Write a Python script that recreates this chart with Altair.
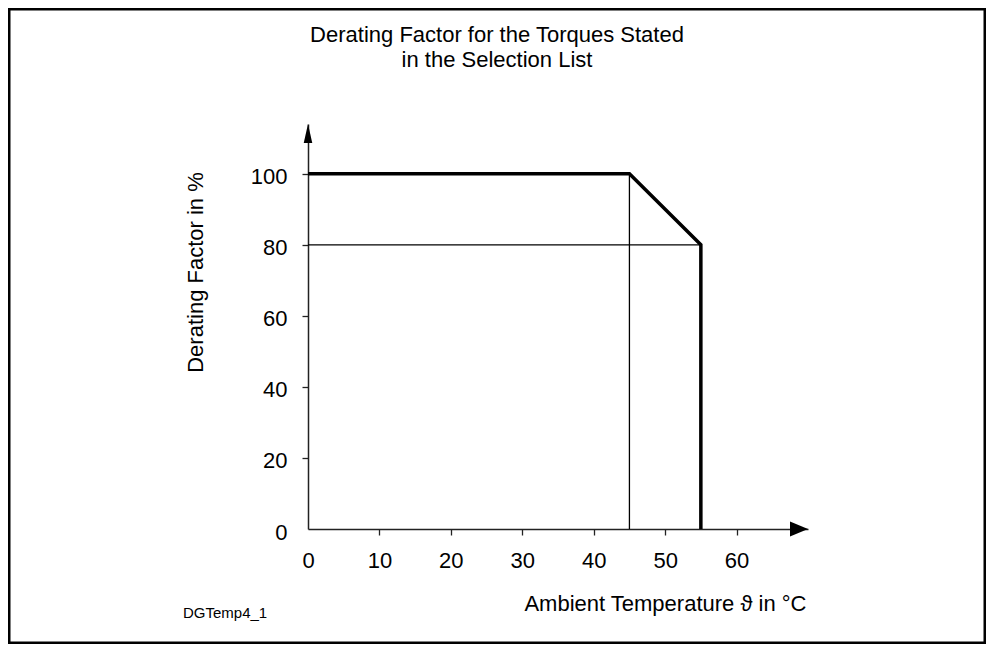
import altair as alt
import pandas as pd

# ---- data ----
curve_temp = [0, 45, 55, 55]
curve_factor = [100, 100, 80, 0]
curve_step = [0, 1, 2, 3]

guide_v_temp = [45]
guide_v_from = [0]
guide_v_to = [100]

guide_h_factor = [80]
guide_h_from = [0]
guide_h_to = [55]

x_ticks = [0, 10, 20, 30, 40, 50, 60]
y_ticks = [0, 20, 40, 60, 80, 100]
x_axis_end = [70]
y_axis_end = [114]

title_lines = ["Derating Factor for the Torques Stated", "in the Selection List"]
x_title = "Ambient Temperature \u03d1 in \u00b0C"
y_title = "Derating Factor in %"
figure_id = "DGTemp4_1"

FONT = "Liberation Sans"
X_DOMAIN = [0, x_axis_end[0]]
Y_DOMAIN = [0, y_axis_end[0]]

no_zero_tick = {"condition": {"test": "datum.value === 0", "value": 0}, "value": 1}

x_axis = alt.Axis(
    values=x_ticks, grid=False, domainColor="#222", domainWidth=1.5,
    tickColor="#222", tickWidth=1.3, tickSize=6, tickOpacity=no_zero_tick,
    labelFontSize=22, labelFont=FONT, labelColor="black", labelPadding=15,
    labelFlush=False, labelOverlap=False,
    title=x_title, titleFont=FONT, titleFontSize=22, titleFontWeight="normal",
    titleColor="black", titleAlign="right", titleBaseline="alphabetic",
    titleX=498, titleY=81, titleAnchor="end",
)
y_axis = alt.Axis(
    values=y_ticks, grid=False, domainColor="#222", domainWidth=1.5,
    tickColor="#222", tickWidth=1.3, tickSize=6, tickOpacity=no_zero_tick,
    labelFontSize=22, labelFont=FONT, labelColor="black", labelPadding=15,
    labelOffset=3, labelFlush=False, labelOverlap=False,
    title=y_title, titleFont=FONT, titleFontSize=22, titleFontWeight="normal",
    titleColor="black", titleAngle=270, titleAlign="center",
    titleBaseline="alphabetic", titleX=-106, titleY=148,
)
x_scale = alt.Scale(domain=X_DOMAIN, nice=False, zero=False)
y_scale = alt.Scale(domain=Y_DOMAIN, nice=False, zero=False)

curve_df = pd.DataFrame({"temp": curve_temp, "factor": curve_factor, "step": curve_step})
vdf = pd.DataFrame({"temp": guide_v_temp, "lo": guide_v_from, "hi": guide_v_to})
hdf = pd.DataFrame({"factor": guide_h_factor, "lo": guide_h_from, "hi": guide_h_to})
xarrow_df = pd.DataFrame({"temp": x_axis_end, "factor": [0]})
yarrow_df = pd.DataFrame({"temp": [0], "factor": y_axis_end})
one = pd.DataFrame({"label": [figure_id]})
title_df1 = pd.DataFrame({"t": [title_lines[0]]})
title_df2 = pd.DataFrame({"t": [title_lines[1]]})

curve = alt.Chart(curve_df).mark_line(
    color="black", strokeWidth=3.5, strokeJoin="miter", strokeCap="butt"
).encode(
    x=alt.X("temp:Q", scale=x_scale, axis=x_axis),
    y=alt.Y("factor:Q", scale=y_scale, axis=y_axis),
    order="step:Q",
)

vguide = alt.Chart(vdf).mark_rule(color="black", strokeWidth=1.3).encode(
    x=alt.X("temp:Q", scale=x_scale),
    y=alt.Y("lo:Q", scale=y_scale),
    y2="hi:Q",
)
hguide = alt.Chart(hdf).mark_rule(color="black", strokeWidth=1.3).encode(
    y=alt.Y("factor:Q", scale=y_scale),
    x=alt.X("lo:Q", scale=x_scale),
    x2="hi:Q",
)

yarrow = alt.Chart(yarrow_df).mark_point(
    shape="M0,0L0.45,2L-0.45,2Z", size=361, filled=True, color="black",
    opacity=1, strokeWidth=0,
).encode(x=alt.X("temp:Q", scale=x_scale), y=alt.Y("factor:Q", scale=y_scale))

xarrow = alt.Chart(xarrow_df).mark_point(
    shape="M0,0L-2,-0.83L-2,0.83Z", size=324, filled=True, color="black",
    opacity=1, strokeWidth=0,
).encode(x=alt.X("temp:Q", scale=x_scale), y=alt.Y("factor:Q", scale=y_scale))

label = alt.Chart(one).mark_text(
    align="left", baseline="middle", fontSize=15, font=FONT, color="black"
).encode(text="label:N", x=alt.value(-125), y=alt.value(489))

title1 = alt.Chart(title_df1).mark_text(
    align="center", baseline="alphabetic", fontSize=22, font=FONT, color="black"
).encode(text="t:N", x=alt.value(189), y=alt.value(-82))
title2 = alt.Chart(title_df2).mark_text(
    align="center", baseline="alphabetic", fontSize=22, font=FONT, color="black"
).encode(text="t:N", x=alt.value(189), y=alt.value(-57))

frame = alt.Chart(one).mark_rect(
    filled=False, stroke="black", strokeWidth=3, fill=None
).encode(x=alt.value(-299), x2=alt.value(677), y=alt.value(-115), y2=alt.value(519))

chart = alt.layer(
    frame, vguide, hguide, curve, yarrow, xarrow, label, title1, title2
).properties(
    width=500,
    height=405,
    padding={"left": 300, "top": 116, "right": 178, "bottom": 115},
    autosize="none",
).configure_view(stroke=None)

chart.save("out.html", embed_options={"renderer": "svg", "actions": False})
